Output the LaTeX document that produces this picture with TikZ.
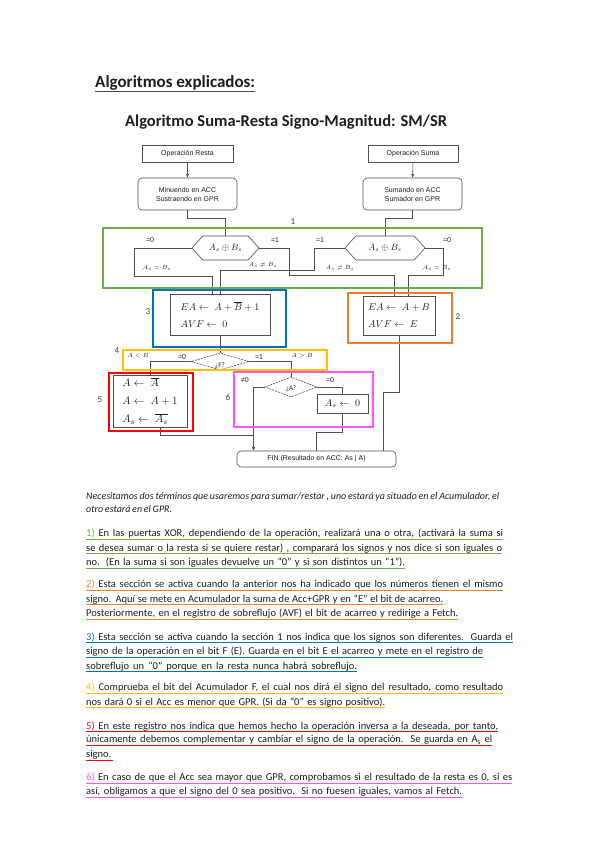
\documentclass[tikz,border=0pt]{standalone}
\usepackage{fontspec}
\setmainfont{Carlito}
\newfontfamily\diagfont{Liberation Sans}
\usetikzlibrary{shapes.symbols,shapes.geometric,arrows.meta}
\hbadness=10000 \hfuzz=50pt
\definecolor{cgreen}{HTML}{70AD47}
\definecolor{cblue}{HTML}{0070C0}
\definecolor{corange}{HTML}{ED7D31}
\definecolor{cyellow}{HTML}{FFC000}
\definecolor{cred}{HTML}{FF0000}
\definecolor{cpink}{HTML}{FF55FF}
\definecolor{lin}{HTML}{505050}
\definecolor{ink}{HTML}{1E1E1E}
\newcommand\txtline[5]{%
  \node[txt] (#1) at (86,#2) {\hbox to #3pt{\spaceskip=0.22em plus 3em minus 0.1em\relax #5}};
  \draw[line width=1.2pt,draw=#4] ([yshift=-2.8pt]#1.base west) -- ([yshift=-2.8pt]#1.base east);}
\begin{document}
\begin{tikzpicture}[x=1pt,y=-1pt,
  conn/.style={draw=lin, line width=0.6pt},
  arr/.style={conn,-{Latex[length=3.5pt,width=3pt]}},
  box/.style={draw=lin, line width=0.6pt, inner sep=0pt, align=center, text=ink,
    font=\diagfont\fontsize{7}{9}\selectfont},
  mbox/.style={draw=lin, line width=0.6pt, inner sep=0pt, align=left, text=ink},
  hexa/.style={draw=lin, line width=0.6pt, signal, signal to=west and east,
    signal pointer angle=96, inner sep=0pt, text=ink, font=\fontsize{9}{10}\selectfont},
  dia/.style={draw=lin, line width=0.6pt, dash pattern=on 2pt off 1pt, diamond, inner sep=0pt},
  frame/.style={line width=#1},
  lab/.style={inner sep=0pt, text=ink, font=\diagfont\fontsize{7}{8}\selectfont},
  mlab/.style={inner sep=0pt, text=ink, font=\fontsize{6}{7}\selectfont},
  num/.style={inner sep=0pt, text=ink!85, font=\fontsize{9}{10}\selectfont},
  txt/.style={anchor=base west, inner sep=0pt, text=ink, font=\fontsize{10.5}{12}\selectfont},
]
\useasboundingbox[fill=white] (0,0) rectangle (599,848);

% titles
\node[anchor=base west, inner sep=0pt, text=ink, font=\bfseries\fontsize{17}{20}\selectfont] (title) at (95,88) {Algoritmos explicados:};
\draw[line width=1.1pt, draw=ink!80] ([yshift=-3.5pt]title.base west) -- ([yshift=-3.5pt]title.base east);
\node[anchor=base west, inner sep=0pt, text=ink, font=\bfseries\fontsize{16.5}{20}\selectfont] (subtitle) at (125,127) {Algoritmo Suma-Resta Signo-Magnitud: SM/SR};

% top boxes
\node[box, minimum width=91pt, minimum height=17pt] (resta) at (187.5,153.5) {Operación Resta};
\node[box, minimum width=90pt, minimum height=17pt] (suma) at (413,153.5) {Operación Suma};
\node[box, rounded corners=4pt, minimum width=99pt, minimum height=32pt] (minu) at (187.5,194) {Minuendo en ACC\\Sustraendo en GPR};
\node[box, rounded corners=4pt, minimum width=99pt, minimum height=32pt] (sumd) at (412.5,194) {Sumando en ACC\\Sumador en GPR};
\draw[arr] (resta) -- (minu);
\draw[arr] (suma) -- (sumd);

% hexagons
\node[hexa, minimum width=67pt, minimum height=24pt] (hexA) at (225.5,248) {$A_s\oplus B_s$};
\node[hexa, minimum width=80pt, minimum height=24pt] (hexB) at (385,248) {$A_s\oplus B_s$};
\draw[conn] (minu.south) -- ++(0,8) -| (hexA.north);
\draw[conn] (sumd.south) -- ++(0,8) -| (hexB.north);

% registers
\node[mbox, minimum width=100pt, minimum height=41pt, font=\fontsize{10}{17}\selectfont] (bin) at (220,314.5)
  {$EA\leftarrow\; A+\overline{B}+1$\\$AVF\leftarrow\; 0$};
\node[mbox, minimum width=72pt, minimum height=39pt, font=\fontsize{10}{17}\selectfont] (oin) at (399,315.5)
  {$EA\leftarrow\; A+B$\\$AVF\leftarrow\; E$};

\draw[conn] (hexA.west) -| ++(-57,28) -| ([xshift=-8pt]bin.north);
\draw[conn] (hexA.east) -| ++(30,27) -| ([xshift=-5pt]oin.north);
\draw[conn] (hexB.west) -| ++(-30,22) -| (bin.north);
\draw[conn] (hexB.east) -| ++(18,27) -| ([xshift=9pt]oin.north);

\node[lab] (l1) at (150,240) {=0};
\node[lab] (l2) at (275,240) {=1};
\node[lab] (l3) at (320,240) {=1};
\node[lab] (l4) at (447,240) {=0};
\node[mlab] (m1) at (157,268) {$A_s=B_s$};
\node[mlab] (m2) at (263,265) {$A_s\neq B_s$};
\node[mlab] (m3) at (340,268) {$A_s\neq B_s$};
\node[mlab] (m4) at (437,268) {$A_s=B_s$};

% decision F
\node[dia, minimum width=58pt, minimum height=17pt] (F) at (220,361.5) {};
\node[mlab, font=\fontsize{7}{8}\selectfont] (Ft) at (220,366) {¿F?};
\draw[conn] (bin.south) -- (F.north);

\node[mbox, minimum width=74pt, minimum height=52pt, font=\fontsize{11}{18}\selectfont] (rin) at (150,401)
  {$A\leftarrow\;\overline{A}$\\$A\leftarrow\; A+1$\\$A_s\leftarrow\;\overline{A_s}$};
\node[dia, minimum width=52pt, minimum height=20pt] (Ad) at (291,387) {};
\node[mlab, font=\fontsize{7}{8}\selectfont] (At) at (291,389) {¿A?};
\node[mbox, minimum width=51pt, minimum height=19pt, align=center, font=\fontsize{10}{12}\selectfont] (as0) at (342.5,403.5) {$A_s\leftarrow\; 0$};
\node[box, rounded corners=4pt, minimum width=159pt, minimum height=16pt] (fin) at (316.5,459) {FIN (Resultado en ACC: As | A)};

\draw[conn] (F.west) -| (rin.north);
\draw[conn] (F.east) -| (Ad.north);
\draw[arr] (Ad.west) -| ([xshift=-63pt]fin.north);
\draw[conn] (Ad.east) -| (as0.north);
\draw[conn] (as0.south) -- ++(0,19) -| (fin.north);
\draw[arr] ([xshift=10pt]rin.south) -- ++(0,8) -| ([xshift=-63pt]fin.north);
\draw[conn] (oin.south) -- ++(0,57) -| ([xshift=66.5pt]fin.north);

\node[mlab] (m5) at (138,356) {$A<B$};
\node[lab] (l5) at (182,357) {=0};
\node[lab] (l6) at (259,357) {=1};
\node[mlab] (m6) at (302,356) {$A>B$};
\node[lab] (l7) at (245,380) {≠0};
\node[lab] (l8) at (330,380) {=0};

% coloured frames
\draw[cgreen, frame=2pt] (103,228) rectangle (482,288);
\draw[cblue, frame=2.2pt] (153,290) rectangle (286,347);
\draw[corange, frame=2.2pt] (348,293) rectangle (452,343);
\draw[cyellow, frame=1.8pt] (123,350) rectangle (327,370);
\draw[cred, frame=2.8pt] (109,373) rectangle (193,431);
\draw[cpink, frame=2.2pt] (234,372) rectangle (373,427);

\node[num] (n1) at (293,222) {1};
\node[num] (n2) at (458,317) {2};
\node[num] (n3) at (148,312) {3};
\node[num] (n4) at (117,351) {4};
\node[num] (n5) at (100,400) {5};
\node[num] (n6) at (228,397) {6};

% text
\node[txt, font=\itshape\fontsize{10}{12}\selectfont] (p0a) at (86,499.5) {\hbox to 413pt{\spaceskip=0.2em plus 3em minus 0.1em\relax Necesitamos dos términos que usaremos para sumar/restar , uno estará ya situado en el Acumulador, el}};
\node[txt, font=\itshape\fontsize{10}{12}\selectfont] (p0b) at (86,512.5) {\hbox to 86pt{\spaceskip=0.2em plus 3em minus 0.1em\relax otro estará en el GPR.}};

\txtline{p1a}{536.5}{417}{cgreen}{\textcolor{cgreen}{1)} En las puertas XOR, dependiendo de la operación, realizará una o otra, (activará la suma si}
\txtline{p1b}{551}{416}{cgreen}{se desea sumar o la resta si se quiere restar) , comparará los signos y nos dice si son iguales o}
\txtline{p1c}{565.5}{319}{cgreen}{no. (En la suma si son iguales devuelve un “0” y si son distintos un “1”).}

\txtline{p2a}{587.5}{417}{corange}{\textcolor{corange}{2)} Esta sección se activa cuando la anterior nos ha indicado que los números tienen el mismo}
\txtline{p2b}{602}{357}{corange}{signo. Aquí se mete en Acumulador la suma de Acc+GPR y en “E” el bit de acarreo.}
\txtline{p2c}{616.5}{372}{corange}{Posteriormente, en el registro de sobreflujo (AVF) el bit de acarreo y redirige a Fetch.}

\txtline{p3a}{640}{427}{cblue}{\textcolor{cblue}{3)} Esta sección se activa cuando la sección 1 nos indica que los signos son diferentes. Guarda el}
\txtline{p3b}{654.5}{397}{cblue}{signo de la operación en el bit F (E). Guarda en el bit E el acarreo y mete en el registro de}
\txtline{p3c}{669}{271}{cblue}{sobreflujo un “0” porque en la resta nunca habrá sobreflujo.}

\txtline{p4a}{690.5}{417}{cyellow}{\textcolor{cyellow}{4)} Comprueba el bit del Acumulador F, el cual nos dirá el signo del resultado, como resultado}
\txtline{p4b}{705}{299}{cyellow}{nos dará 0 si el Acc es menor que GPR. (Si da “0” es signo positivo).}

\txtline{p5a}{729}{412}{cred}{\textcolor{cred}{5)} En este registro nos indica que hemos hecho la operación inversa a la deseada, por tanto,}
\txtline{p5b}{742.5}{406}{cred}{únicamente debemos complementar y cambiar el signo de la operación. Se guarda en A\textsubscript{s} el}
\txtline{p5c}{757.5}{27}{cred}{signo.}

\txtline{p6a}{780.5}{426}{cpink}{\textcolor{cpink}{6)} En caso de que el Acc sea mayor que GPR, comprobamos si el resultado de la resta es 0, si es}
\txtline{p6b}{794.5}{376}{cpink}{así, obligamos a que el signo del 0 sea positivo. Si no fuesen iguales, vamos al Fetch.}
\end{tikzpicture}
\end{document}
